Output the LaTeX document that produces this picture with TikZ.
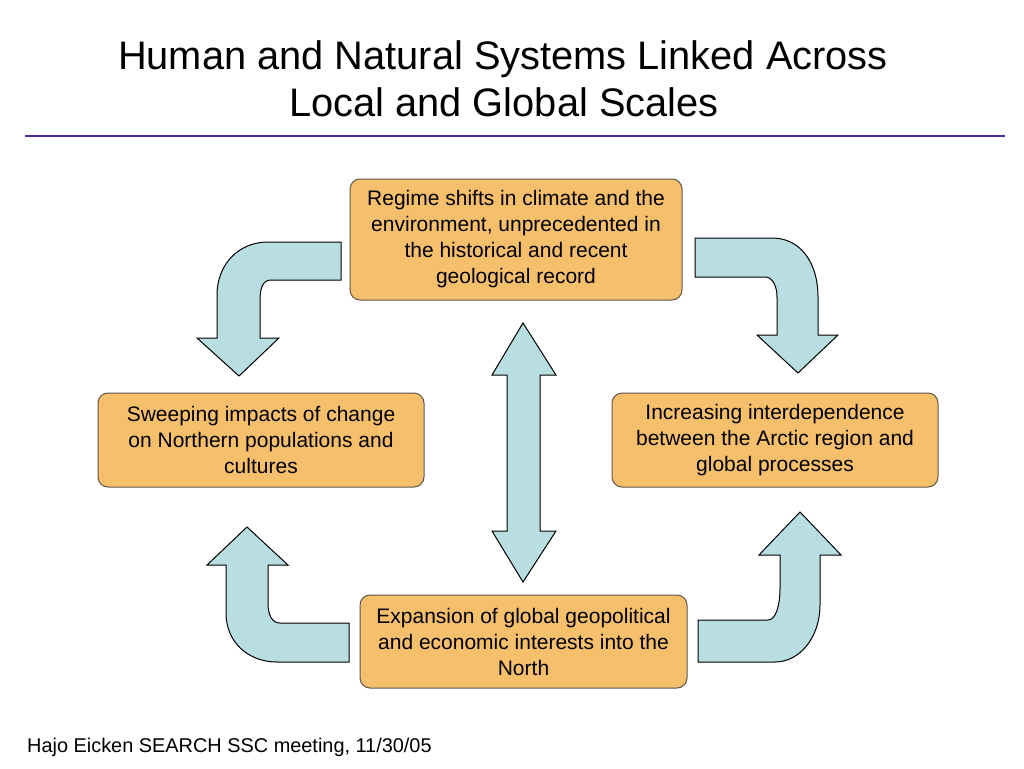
\documentclass[tikz,border=0pt]{standalone}
\usepackage{fontspec}
\setmainfont{Liberation Sans}
\definecolor{boxfill}{RGB}{246,191,107}
\definecolor{boxline}{RGB}{95,85,75}
\definecolor{arrowfill}{RGB}{184,222,225}
\definecolor{rulecol}{RGB}{80,40,160}
\begin{document}
\begin{tikzpicture}[x=1pt,y=-1pt,
  box/.style={draw=boxline, fill=boxfill, line width=1pt, rounded corners=10pt,
    align=center, inner sep=0pt, font=\fontsize{21}{26}\selectfont},
  bigarrow/.style={draw=black, fill=arrowfill, line width=1pt, line join=miter},
  titletext/.style={font=\fontsize{39.8}{47}\selectfont, anchor=base, inner sep=0pt},
  foot/.style={font=\fontsize{19.9}{23}\selectfont, anchor=base west, inner sep=0pt}]
\useasboundingbox[fill=white] (0,0) rectangle (1024,768);

% title
\node[titletext] (t1) at (503,69) {Human and Natural Systems Linked Across};
\node[titletext] (t2) at (504,116) {Local and Global Scales};
\coordinate (rl) at (25,136);
\coordinate (rr) at (1005,136);
\draw[rulecol, line width=1.3pt] (rl) -- (rr);

% boxes
\node[box, minimum width=332pt, minimum height=121pt] (top) at (516,239.5)
  {Regime shifts in climate and the\\environment, unprecedented in\\the historical and recent\\geological record};
\node[box, minimum width=326pt, minimum height=94pt] (left) at (261,440)
  {Sweeping impacts of change\\on Northern populations and\\cultures};
\node[box, minimum width=326pt, minimum height=94pt] (right) at (775,440)
  {Increasing interdependence\\between the Arctic region and\\global processes};
\node[box, minimum width=327pt, minimum height=93pt] (bottom) at (523.5,641.5)
  {Expansion of global geopolitical\\and economic interests into the\\North};

% curved arrows
\draw[bigarrow] (341,242) -- (268,242) .. controls (238,242) and (217,265) .. (217,295)
  -- (217,338) -- (197,338) -- (239,376) -- (279,338) -- (260,338) -- (260,300)
  .. controls (260,288) and (263,280) .. (271,280) -- (341,280) -- cycle;

\draw[bigarrow] (695,238) -- (772,238) .. controls (800,238) and (818,262) .. (818,297)
  -- (818,335) -- (838,335) -- (798,373) -- (757,335) -- (777,335) -- (777,297)
  .. controls (777,287) and (773,277) .. (765,277) -- (695,277) -- cycle;

\draw[bigarrow] (247,527) -- (288,565) -- (268,565) -- (268,603)
  .. controls (268,615) and (272,623) .. (280,623) -- (349,623) -- (349,662)
  -- (277,662) .. controls (248,662) and (226,642) .. (226,613) -- (226,565)
  -- (207,565) -- cycle;

\draw[bigarrow] (800,512) -- (841,555) -- (820,555) -- (820,605)
  .. controls (820,637) and (800,662) .. (775,662) -- (698,662) -- (698,620)
  -- (768,620) .. controls (776,620) and (780,605) .. (780,588) -- (780,555)
  -- (759,555) -- cycle;

% double arrow
\draw[bigarrow] (523,323) -- (556,375) -- (540,375) -- (540,531) -- (556,531)
  -- (523,582) -- (492,531) -- (507,531) -- (507,375) -- (492,375) -- cycle;

% footer
\node[foot] (ft) at (27,752) {Hajo Eicken SEARCH SSC meeting, 11/30/05};
\end{tikzpicture}
\end{document}
